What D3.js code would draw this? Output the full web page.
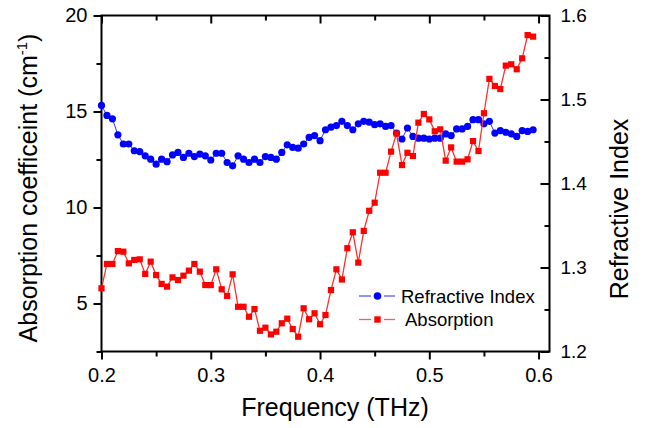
<!DOCTYPE html>
<html>
<head>
<meta charset="utf-8">
<script src="https://cdn.jsdelivr.net/npm/d3@7"></script>
<style>
  html, body { margin: 0; padding: 0; background: #ffffff; }
  svg { display: block; font-family: "Liberation Sans", Arial, sans-serif; }
</style>
</head>
<body>
<svg id="chart" width="646" height="428"></svg>
<script>
// ---------------- data ----------------
const freq = [
  0.200,0.205,0.210,0.215,0.220,0.225,0.230,0.235,0.240,0.245,
  0.250,0.255,0.260,0.265,0.270,0.275,0.280,0.285,0.290,0.295,
  0.300,0.305,0.310,0.315,0.320,0.325,0.330,0.335,0.340,0.345,
  0.350,0.355,0.360,0.365,0.370,0.375,0.380,0.385,0.390,0.395,
  0.400,0.405,0.410,0.415,0.420,0.425,0.430,0.435,0.440,0.445,
  0.450,0.455,0.460,0.465,0.470,0.475,0.480,0.485,0.490,0.495,
  0.500,0.505,0.510,0.515,0.520,0.525,0.530,0.535,0.540,0.545,
  0.550,0.555,0.560,0.565,0.570,0.575,0.580,0.585,0.590,0.595
];
const absorption = [
  5.79,7.06,7.06,7.73,7.70,7.09,7.27,7.30,6.54,7.18,
  6.48,6.02,5.88,6.36,6.22,6.45,6.71,7.06,6.66,5.96,
  5.96,6.78,5.74,5.39,6.52,4.83,4.83,4.31,4.71,3.58,
  3.74,3.39,3.53,3.97,4.21,3.67,3.27,4.75,4.18,4.49,
  3.92,4.40,5.70,6.78,6.25,7.88,8.71,7.13,8.78,9.83,
  10.25,11.81,11.81,12.91,13.85,12.21,12.85,12.68,14.42,14.87,
  14.59,13.97,14.07,12.44,13.13,12.39,12.39,12.51,13.46,12.94,
  14.91,16.70,16.33,16.17,17.39,17.46,17.20,17.77,18.98,18.90
];
const refractive = [
  1.493,1.481,1.477,1.458,1.447,1.447,1.439,1.438,1.433,1.429,
  1.423,1.429,1.426,1.434,1.437,1.431,1.436,1.432,1.435,1.433,
  1.428,1.436,1.436,1.425,1.421,1.433,1.429,1.425,1.429,1.425,
  1.432,1.431,1.429,1.437,1.446,1.443,1.442,1.447,1.455,1.457,
  1.451,1.464,1.467,1.469,1.474,1.469,1.464,1.471,1.474,1.473,
  1.470,1.471,1.468,1.469,1.460,1.453,1.466,1.456,1.454,1.454,
  1.453,1.454,1.454,1.459,1.457,1.465,1.465,1.468,1.476,1.476,
  1.471,1.474,1.460,1.463,1.461,1.459,1.456,1.463,1.462,1.464
];
const xTicks = [0.2, 0.3, 0.4, 0.5, 0.6];
const xMinor = [0.25, 0.35, 0.45, 0.55];
const yLeftTicks = [5, 10, 15, 20];
const yLeftMinor = [2.5, 7.5, 12.5, 17.5];
const yRightTicks = [1.2, 1.3, 1.4, 1.5, 1.6];
const yRightMinor = [1.25, 1.35, 1.45, 1.55];
const seriesNames = ["Refractive Index", "Absorption"];
const xTitle = "Frequency (THz)";
const yRightTitle = "Refractive Index";

// ---------------- layout ----------------
const L = 101.5, R = 549.5, T = 15.5, B = 351.5;
const svg = d3.select("#chart");

const x = d3.scaleLinear().domain([0.2, 0.61]).range([L, R]);
const yL = d3.scaleLinear().domain([2.5, 20]).range([B, T]);
const yR = d3.scaleLinear().domain([1.2, 1.6]).range([B, T]);

const fmt1 = d3.format(".1f");

function styleAxis(g) {
  g.select(".domain").remove();
  g.selectAll("line").attr("stroke", "#000").attr("stroke-width", 2);
  g.selectAll("text").attr("fill", "#000");
}

// bottom
svg.append("g").attr("transform", `translate(0,${B})`)
  .call(d3.axisBottom(x).tickValues(xTicks).tickFormat(fmt1).tickSize(8).tickPadding(8))
  .call(styleAxis)
  .selectAll("text").style("font-size", "20px");
svg.append("g").attr("transform", `translate(0,${B})`)
  .call(d3.axisBottom(x).tickValues(xMinor).tickFormat("").tickSize(5))
  .call(styleAxis);
// top (inward)
svg.append("g").attr("transform", `translate(0,${T})`)
  .call(d3.axisBottom(x).tickValues(xTicks).tickFormat("").tickSize(8))
  .call(styleAxis);
svg.append("g").attr("transform", `translate(0,${T})`)
  .call(d3.axisBottom(x).tickValues(xMinor).tickFormat("").tickSize(5))
  .call(styleAxis);
// left
svg.append("g").attr("transform", `translate(${L},0)`)
  .call(d3.axisLeft(yL).tickValues(yLeftTicks).tickFormat(d3.format("d")).tickSize(8).tickPadding(6))
  .call(styleAxis)
  .selectAll("text").style("font-size", "20px");
svg.append("g").attr("transform", `translate(${L},0)`)
  .call(d3.axisLeft(yL).tickValues(yLeftMinor).tickFormat("").tickSize(5))
  .call(styleAxis);
// right (ticks inward, labels outside)
const gR = svg.append("g").attr("transform", `translate(${R},0)`)
  .call(d3.axisLeft(yR).tickValues(yRightTicks).tickFormat(fmt1).tickSize(9))
  .call(styleAxis);
gR.selectAll("text").attr("x", 11).attr("text-anchor", "start").style("font-size", "19px");
svg.append("g").attr("transform", `translate(${R},0)`)
  .call(d3.axisLeft(yR).tickValues(yRightMinor).tickFormat("").tickSize(5))
  .call(styleAxis);

// frame
svg.append("rect").attr("x", L).attr("y", T).attr("width", R - L).attr("height", B - T)
  .attr("fill", "none").attr("stroke", "#000").attr("stroke-width", 2);

// titles
svg.append("text").attr("x", 335).attr("y", 416).attr("text-anchor", "middle")
  .style("font-size", "25px").text(xTitle);

const yt = svg.append("text").attr("transform", "translate(37,188) rotate(-90)")
  .attr("text-anchor", "middle").style("font-size", "25px");
yt.append("tspan").text("Absorption coefficeint (cm");
yt.append("tspan").attr("dy", -10).style("font-size", "15px").text("-1");
yt.append("tspan").attr("dy", 10).text(")");

svg.append("text").attr("transform", "translate(628,209) rotate(-90)")
  .attr("text-anchor", "middle").style("font-size", "25px").text(yRightTitle);

// ---------------- series ----------------
const blueData = freq.map((f, i) => [f, refractive[i]]);
const redData = freq.map((f, i) => [f, absorption[i]]);

svg.append("path").datum(blueData)
  .attr("fill", "none").attr("stroke", "#3333ff").attr("stroke-width", 1)
  .attr("d", d3.line().x(d => x(d[0])).y(d => yR(d[1])));
svg.append("g").selectAll("circle").data(blueData).join("circle")
  .attr("cx", d => x(d[0])).attr("cy", d => yR(d[1])).attr("r", 3.6)
  .attr("fill", "#0000ff");

svg.append("path").datum(redData)
  .attr("fill", "none").attr("stroke", "#ff3030").attr("stroke-width", 1.3)
  .attr("d", d3.line().x(d => x(d[0])).y(d => yL(d[1])));
const sq = 6.2;
svg.append("g").selectAll("rect").data(redData).join("rect")
  .attr("x", d => x(d[0]) - sq / 2).attr("y", d => yL(d[1]) - sq / 2)
  .attr("width", sq).attr("height", sq).attr("fill", "#ff0000");

// ---------------- legend ----------------
const leg = svg.append("g");
const rows = [
  { name: seriesNames[0], color: "#0000ff", line: "#5a5aff", y: 296, tx: 401, shape: "circle" },
  { name: seriesNames[1], color: "#ff0000", line: "#ff5a5a", y: 319.5, tx: 405, shape: "rect" }
];
rows.forEach(r => {
  leg.append("line").attr("x1", 359).attr("x2", 371).attr("y1", r.y).attr("y2", r.y)
    .attr("stroke", r.line).attr("stroke-width", 1.3);
  leg.append("line").attr("x1", 384).attr("x2", 395).attr("y1", r.y).attr("y2", r.y)
    .attr("stroke", r.line).attr("stroke-width", 1.3);
  if (r.shape === "circle") {
    leg.append("circle").attr("cx", 377.5).attr("cy", r.y).attr("r", 3.8).attr("fill", r.color);
  } else {
    leg.append("rect").attr("x", 377.5 - 3.2).attr("y", r.y - 3.2).attr("width", 6.4).attr("height", 6.4).attr("fill", r.color);
  }
  leg.append("text").attr("x", r.tx).attr("y", r.y).attr("dy", "0.36em")
    .style("font-size", "18.5px").attr("fill", "#000").text(r.name);
});
</script>
</body>
</html>
